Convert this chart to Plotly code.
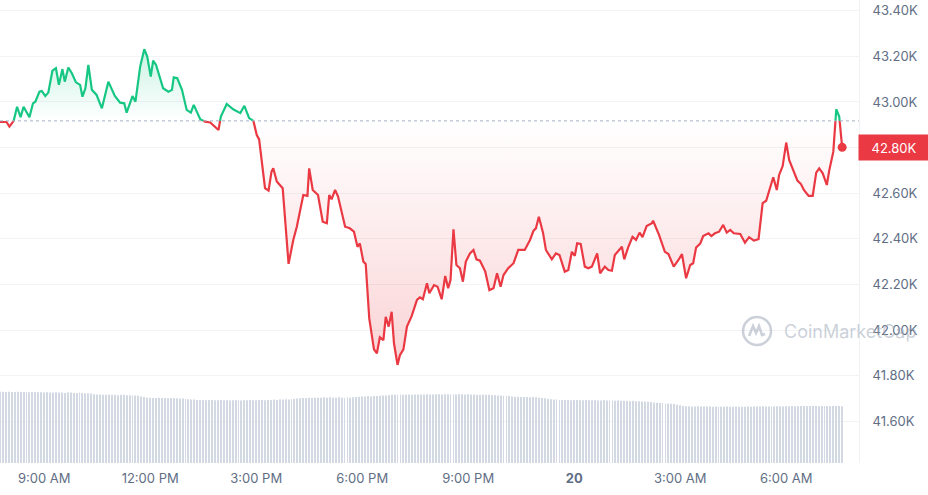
"""
Bitcoin price over the last 24 hours, drawn like the CoinMarketCap mini chart:
price line split green/red around the opening price, with a volume strip at the bottom.
"""

import numpy as np
import pandas as pd
import plotly.graph_objects as go

START = pd.Timestamp("2023-12-19 07:45")
OPEN_PRICE = 42917

GREEN = "#16c784"
RED = "#ea3943"

# price samples, minutes after START
minutes = [
    0, 11, 16, 23, 29, 35, 40, 50, 56, 60, 67, 71, 77, 82, 89, 95, 100, 106, 110, 116,
    122, 129, 136, 140, 145, 150, 156, 164, 173, 184, 195, 204, 211, 215, 225, 230, 238, 245, 250, 256,
    260, 265, 277, 286, 292, 295, 301, 309, 317, 324, 329, 340, 348, 357, 371, 375, 385, 396, 408, 415,
    423, 430, 436, 440,
    450, 456, 461, 464, 470, 480, 490, 498, 504, 515, 522, 525, 531, 540, 548, 555, 559, 563, 569, 574,
    586, 594, 601, 607, 611, 617, 621, 627, 635, 640, 645, 651, 655, 660, 665, 669, 675, 679, 685, 691,
    699, 708, 713, 718, 725, 729, 737, 743, 750, 756, 761, 765, 770, 775, 781, 786, 791, 798,
    804, 809, 815, 824, 831, 838, 844, 850, 855, 863, 872, 880, 891, 900, 906, 910, 915, 922, 927, 937,
    944, 950, 959, 965, 971, 976, 980, 986, 993, 999, 1005, 1014, 1019, 1027, 1033, 1039, 1044, 1056, 1060, 1067,
    1074, 1080, 1086, 1091, 1098, 1107, 1109, 1119, 1129, 1135, 1144, 1152, 1158, 1165, 1172, 1177, 1182, 1189,
    1194, 1203, 1208, 1214, 1221, 1228, 1234, 1240, 1246, 1257, 1265, 1272, 1280, 1288, 1295, 1301, 1307, 1313,
    1319, 1323, 1329, 1335, 1340, 1347, 1354, 1360, 1365, 1373, 1380, 1386, 1391, 1397, 1404, 1408, 1415, 1420,
    1425, 1430,
]

prices = [
    42912, 42912, 42892, 42915, 42979, 42933, 42979, 42933, 42994, 43001, 43045, 43048, 43026, 43041, 43137, 43148,
    43075, 43144, 43089, 43151, 43126, 43086, 43075, 43023, 43060, 43162, 43053, 43031, 42972, 43089, 43026, 42997,
    42994, 42953, 43026, 43001, 43155, 43231, 43199, 43111, 43181, 43162, 43060, 43045, 43053, 43108, 43104, 43053,
    42965, 42953, 42987, 42924, 42914, 42910, 42877, 42936, 42991, 42968, 42951, 42983, 42929, 42920, 42855, 42836,
    42622, 42611, 42694, 42709, 42651, 42622, 42290, 42395, 42453, 42592, 42588, 42709, 42614, 42592, 42475, 42468,
    42592, 42573, 42614, 42585, 42453, 42446, 42431, 42365, 42380, 42300, 42290, 42051, 41915, 41898, 41968, 41956,
    42058, 42015, 42080, 41942, 41847, 41890, 41915, 42015, 42061, 42132, 42143, 42135, 42205, 42161, 42197, 42190,
    42135, 42237, 42183, 42219, 42442, 42285, 42271, 42212, 42300, 42336,
    42351, 42310, 42304, 42256, 42175, 42183, 42249, 42190, 42241, 42271, 42293, 42351, 42351, 42395, 42436, 42446,
    42497, 42427, 42351, 42310, 42336, 42329, 42256, 42263, 42343, 42325, 42380, 42377, 42278, 42271, 42278, 42336,
    42249, 42278, 42263, 42260, 42329, 42365, 42310, 42365, 42409, 42395, 42427, 42407, 42456, 42468, 42479, 42417,
    42343, 42333, 42278, 42307, 42333, 42227, 42285, 42293, 42362, 42379,
    42412, 42424, 42412, 42424, 42431, 42461, 42427, 42439, 42424, 42421, 42383, 42407, 42392, 42398, 42556, 42567,
    42617, 42670, 42614, 42680, 42719, 42822, 42746, 42699, 42655, 42640, 42614, 42588, 42588, 42690, 42709, 42687,
    42636, 42699, 42782, 42968, 42936, 42801,
]

# 24h volume (billion USD), one bar every 5 minutes from START
volumes = [
    22.5, 22.5, 22.4, 22.5, 22.4, 22.4, 22.5, 22.4, 22.4, 22.4, 22.3, 22.4,
    22.4, 22.3, 22.3, 22.2, 22.3, 22.2, 22.2, 22.3, 22.2, 22.2, 22.1, 22.2,
    22.2, 22.1, 22.1, 22.2, 22.1, 22.0, 22.0, 21.9, 21.7, 21.6, 21.6, 21.5,
    21.5, 21.6, 21.5, 21.5, 21.4, 21.5, 21.5, 21.4, 21.4, 21.3, 21.3, 21.2,
    21.0, 20.8, 20.6, 20.6, 20.5, 20.5, 20.6, 20.5, 20.5, 20.4, 20.5, 20.4,
    20.4, 20.3, 20.3, 20.2, 20.1, 20.0, 20.0, 19.9, 19.9, 19.9, 19.8, 19.9,
    19.9, 19.8, 19.8, 19.9, 19.8, 19.8, 19.7, 19.8, 19.8, 19.8, 19.7, 19.8,
    19.8, 19.9, 19.8, 19.8, 19.9, 19.9, 19.8, 19.9, 19.9, 20.0, 19.9, 20.0,
    20.0, 20.1, 20.0, 20.1, 20.2, 20.3, 20.4, 20.5, 20.5, 20.6, 20.5, 20.6,
    20.6, 20.6, 20.7, 20.6, 20.7, 20.6, 20.6, 20.7, 20.6, 20.6, 20.7, 20.6,
    20.7, 20.8, 20.9, 21.0, 21.0, 21.1, 21.0, 21.1, 21.1, 21.2, 21.3, 21.3,
    21.4, 21.5, 21.5, 21.6, 21.6, 21.5, 21.6, 21.6, 21.5, 21.6, 21.6, 21.6,
    21.6, 21.7, 21.6, 21.6, 21.7, 21.7, 21.6, 21.7, 21.7, 21.7, 21.7, 21.6,
    21.7, 21.7, 21.6, 21.7, 21.6, 21.6, 21.5, 21.5, 21.6, 21.5, 21.5, 21.4,
    21.4, 21.3, 21.3, 21.2, 21.2, 21.1, 21.0, 20.9, 20.9, 20.8, 20.8, 20.8,
    20.7, 20.8, 20.7, 20.6, 20.5, 20.4, 20.2, 20.1, 20.0, 20.0, 19.9, 19.9,
    19.9, 19.9, 19.8, 19.9, 19.9, 19.8, 19.8, 19.9, 19.8, 19.8, 19.8, 19.7,
    19.7, 19.8, 19.7, 19.7, 19.7, 19.6, 19.7, 19.6, 19.6, 19.6, 19.5, 19.6,
    19.5, 19.5, 19.4, 19.4, 19.3, 19.2, 19.1, 19.0, 18.9, 18.9, 18.8, 18.8,
    18.7, 18.6, 18.4, 18.2, 18.0, 17.9, 17.9, 17.8, 17.8, 17.9, 17.8, 17.8,
    17.8, 17.8, 17.7, 17.8, 17.8, 17.7, 17.7, 17.8, 17.7, 17.7, 17.8, 17.7,
    17.7, 17.7, 17.8, 17.7, 17.8, 17.8, 17.8, 17.9, 17.8, 17.8, 17.9, 17.8,
    17.9, 17.9, 17.8, 17.9, 17.9, 18.0, 17.9, 17.9, 18.0, 18.0, 17.9, 18.0,
    18.0, 18.0, 17.9, 18.0, 18.0, 18.0, 17.9, 18.0, 18.0, 18.0, 17.9,
]

tick_times = [
    "2023-12-19 09:00", "2023-12-19 12:00", "2023-12-19 15:00", "2023-12-19 18:00",
    "2023-12-19 21:00", "2023-12-20 00:00", "2023-12-20 03:00", "2023-12-20 06:00",
]
tick_labels = ["9:00 AM", "12:00 PM", "3:00 PM", "6:00 PM", "9:00 PM", "<b>20</b>", "3:00 AM", "6:00 AM"]

price_ticks = [41600, 41800, 42000, 42200, 42400, 42600, 42800, 43000, 43200, 43400]


def split_at_level(mins, vals, level):
    """Insert the points where the line crosses the level, so both colours meet there."""
    xs, ys = [mins[0]], [vals[0]]
    for i in range(1, len(mins)):
        a = vals[i - 1] - level
        b = vals[i] - level
        if a * b < 0:
            f = a / (a - b)
            xs.append(mins[i - 1] + f * (mins[i] - mins[i - 1]))
            ys.append(level)
        xs.append(mins[i])
        ys.append(vals[i])
    return np.array(xs, float), np.array(ys, float)


def draw_chart():
    xs, ys = split_at_level(minutes, prices, OPEN_PRICE)
    times = START + pd.to_timedelta(xs, unit="min")
    base = np.full(len(ys), float(OPEN_PRICE))

    fig = go.Figure()

    # volume strip
    bar_times = START + pd.to_timedelta(np.arange(len(volumes)) * 5, unit="min")
    fig.add_trace(go.Bar(
        x=bar_times, y=volumes, yaxis="y2", width=95000,
        marker=dict(color="#d3d9e3", line=dict(width=0)), hoverinfo="skip",
    ))

    # gradient fills against the opening price
    fig.add_trace(go.Scatter(x=times, y=base, mode="lines", line=dict(width=0), hoverinfo="skip"))
    fig.add_trace(go.Scatter(
        x=times, y=np.maximum(ys, OPEN_PRICE), mode="lines", line=dict(width=0), fill="tonexty",
        fillgradient=dict(type="vertical", start=OPEN_PRICE, stop=max(prices),
                          colorscale=[[0, "rgba(22,199,132,0)"], [1, "rgba(22,199,132,0.22)"]]),
        hoverinfo="skip",
    ))
    fig.add_trace(go.Scatter(x=times, y=base, mode="lines", line=dict(width=0), hoverinfo="skip"))
    fig.add_trace(go.Scatter(
        x=times, y=np.minimum(ys, OPEN_PRICE), mode="lines", line=dict(width=0), fill="tonexty",
        fillgradient=dict(type="vertical", start=min(prices), stop=OPEN_PRICE,
                          colorscale=[[0, "rgba(234,57,67,0.22)"], [1, "rgba(234,57,67,0)"]]),
        hoverinfo="skip",
    ))

    # price line, green above the open and red below
    fig.add_trace(go.Scatter(x=times, y=np.where(ys >= OPEN_PRICE, ys, np.nan), mode="lines",
                             line=dict(color=GREEN, width=2.2)))
    fig.add_trace(go.Scatter(x=times, y=np.where(ys <= OPEN_PRICE, ys, np.nan), mode="lines",
                             line=dict(color=RED, width=2.2)))
    fig.add_trace(go.Scatter(x=[times[-1]], y=[prices[-1]], mode="markers",
                             marker=dict(color=RED, size=9)))

    fig.add_hline(y=OPEN_PRICE, line=dict(color="#a6b0c3", width=1, dash="dot"))

    fig.add_annotation(
        x=1, xref="paper", xanchor="left", xshift=-1, y=prices[-1], yref="y",
        text=f"{prices[-1] / 1000:.2f}K", showarrow=False, bgcolor=RED, width=70, height=25,
        align="center", borderpad=0, font=dict(color="white", size=13, family="Inter"),
    )

    # watermark
    wm = "rgba(160,170,186,0.55)"
    fig.add_annotation(
        x=0.9104, xref="paper", xanchor="left", y=0.285, yref="paper", yanchor="middle",
        text="CoinMarketCap", showarrow=False, font=dict(color=wm, size=18, family="Inter"),
    )
    fig.add_shape(type="circle", xref="paper", yref="paper", xsizemode="pixel", ysizemode="pixel",
                  xanchor=0.8813, yanchor=0.285, x0=-14, x1=14, y0=-14, y1=14,
                  line=dict(color=wm, width=2.5))
    fig.add_shape(type="path", xref="paper", yref="paper", xsizemode="pixel", ysizemode="pixel",
                  xanchor=0.8813, yanchor=0.285,
                  path="M -8,-5 L -4,5 L -1,-2 L 2,5 L 5,-4 L 8,-3",
                  line=dict(color=wm, width=2.5))

    fig.update_layout(
        width=928, height=495, margin=dict(l=0, r=69, t=0, b=32),
        plot_bgcolor="white", paper_bgcolor="white", showlegend=False,
        font=dict(family="Inter", size=13, color="#616e85"),
        xaxis=dict(
            range=[START, START + pd.Timedelta(minutes=1458.6)],
            tickvals=tick_times, ticktext=tick_labels, showgrid=False, zeroline=False,
            ticks="", showline=False, ticklabelstandoff=6,
        ),
        yaxis=dict(
            side="right", range=[41417, 43447], tickvals=price_ticks,
            ticktext=[f"{v / 1000:.2f}K" for v in price_ticks],
            showgrid=True, gridcolor="#f1f3f6", zeroline=False, ticks="",
            ticklabelstandoff=10, showline=True, linecolor="#eff2f5",
        ),
        yaxis2=dict(overlaying="y", range=[0, 146], visible=False),
    )

    fig.write_html("out.html", config={"displayModeBar": False},
                   post_script="document.body.style.margin='0';")


def main():
    draw_chart()


if __name__ == "__main__":
    main()
